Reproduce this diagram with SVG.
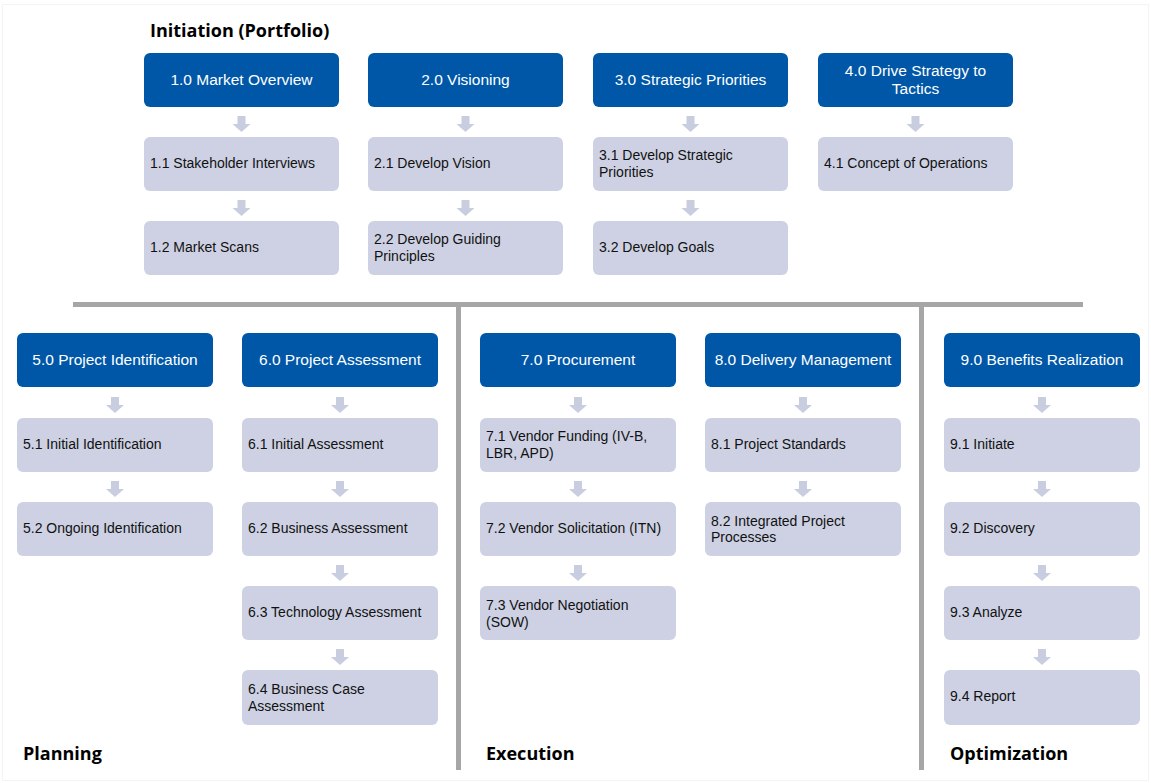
<svg xmlns="http://www.w3.org/2000/svg" xmlns:xlink="http://www.w3.org/1999/xlink" width="1151" height="783" viewBox="0 0 1151 783">
<style>
.hd{fill:#0057a8;}
.sb{fill:#cdd1e3;}
.ht{font-family:"Liberation Sans",Arial,sans-serif;font-size:15.5px;fill:#ffffff;text-anchor:middle;}
.st{font-family:"Liberation Sans",Arial,sans-serif;font-size:14px;fill:#111111;}
.sec{font-family:"Open Sans","DejaVu Sans",sans-serif;font-size:18px;font-weight:bold;fill:#000000;}
.ar{fill:#c9cde0;}
.ln{fill:#a6a6a6;}
</style>
<defs>
<path id="arr" d="M-4,0 H4 V8 H9 L0,16 L-9,8 H-4 Z"/>
</defs>
<rect x="0" y="0" width="1151" height="783" fill="#ffffff"/>
<rect x="2.5" y="4.5" width="1146" height="776" fill="none" stroke="#f4f4f4" stroke-width="1"/>

<g id="dividers">
<rect class="ln" x="73" y="302" width="1010" height="5"/>
<rect class="ln" x="456" y="302" width="5" height="468"/>
<rect class="ln" x="919" y="302" width="5" height="468"/>
</g>

<g id="labels">
<text class="sec" x="150" y="37">Initiation (Portfolio)</text>
<text class="sec" x="23" y="760">Planning</text>
<text class="sec" x="486" y="760">Execution</text>
<text class="sec" x="950" y="760">Optimization</text>
</g>

<g id="n1_0"><rect class="hd" x="144" y="53" width="195" height="54" rx="6"/><text class="ht" x="241.5" y="85">1.0 Market Overview</text></g>
<g id="n2_0"><rect class="hd" x="368" y="53" width="195" height="54" rx="6"/><text class="ht" x="465.5" y="85">2.0 Visioning</text></g>
<g id="n3_0"><rect class="hd" x="593" y="53" width="195" height="54" rx="6"/><text class="ht" x="690.5" y="85">3.0 Strategic Priorities</text></g>
<g id="n4_0"><rect class="hd" x="818" y="53" width="195" height="54" rx="6"/><text class="ht" x="915.5" y="76">4.0 Drive Strategy to</text><text class="ht" x="915.5" y="94">Tactics</text></g>

<g id="n1_1"><rect class="sb" x="144" y="137" width="195" height="54" rx="6"/><text class="st" x="150" y="168">1.1 Stakeholder Interviews</text></g>
<g id="n1_2"><rect class="sb" x="144" y="221" width="195" height="54" rx="6"/><text class="st" x="150" y="252">1.2 Market Scans</text></g>
<g id="n2_1"><rect class="sb" x="368" y="137" width="195" height="54" rx="6"/><text class="st" x="374" y="168">2.1 Develop Vision</text></g>
<g id="n2_2"><rect class="sb" x="368" y="221" width="195" height="54" rx="6"/><text class="st" x="374" y="244">2.2 Develop Guiding</text><text class="st" x="374" y="261">Principles</text></g>
<g id="n3_1"><rect class="sb" x="593" y="137" width="195" height="54" rx="6"/><text class="st" x="599" y="160">3.1 Develop Strategic</text><text class="st" x="599" y="177">Priorities</text></g>
<g id="n3_2"><rect class="sb" x="593" y="221" width="195" height="54" rx="6"/><text class="st" x="599" y="252">3.2 Develop Goals</text></g>
<g id="n4_1"><rect class="sb" x="818" y="137" width="195" height="54" rx="6"/><text class="st" x="824" y="168">4.1 Concept of Operations</text></g>

<g id="n5_0"><rect class="hd" x="17" y="333" width="196" height="54" rx="6"/><text class="ht" x="115" y="365">5.0 Project Identification</text></g>
<g id="n6_0"><rect class="hd" x="242" y="333" width="196" height="54" rx="6"/><text class="ht" x="340" y="365">6.0 Project Assessment</text></g>
<g id="n7_0"><rect class="hd" x="480" y="333" width="196" height="54" rx="6"/><text class="ht" x="578" y="365">7.0 Procurement</text></g>
<g id="n8_0"><rect class="hd" x="705" y="333" width="196" height="54" rx="6"/><text class="ht" x="803" y="365">8.0 Delivery Management</text></g>
<g id="n9_0"><rect class="hd" x="944" y="333" width="196" height="54" rx="6"/><text class="ht" x="1042" y="365">9.0 Benefits Realization</text></g>

<g id="n5_1"><rect class="sb" x="17" y="418" width="196" height="54" rx="6"/><text class="st" x="23" y="449">5.1 Initial Identification</text></g>
<g id="n5_2"><rect class="sb" x="17" y="502" width="196" height="54" rx="6"/><text class="st" x="23" y="533">5.2 Ongoing Identification</text></g>

<g id="n6_1"><rect class="sb" x="242" y="418" width="196" height="54" rx="6"/><text class="st" x="248" y="449">6.1 Initial Assessment</text></g>
<g id="n6_2"><rect class="sb" x="242" y="502" width="196" height="54" rx="6"/><text class="st" x="248" y="533">6.2 Business Assessment</text></g>
<g id="n6_3"><rect class="sb" x="242" y="586" width="196" height="54" rx="6"/><text class="st" x="248" y="617">6.3 Technology Assessment</text></g>
<g id="n6_4"><rect class="sb" x="242" y="670" width="196" height="55" rx="6"/><text class="st" x="248" y="694">6.4 Business Case</text><text class="st" x="248" y="711">Assessment</text></g>

<g id="n7_1"><rect class="sb" x="480" y="418" width="196" height="54" rx="6"/><text class="st" x="486" y="441">7.1 Vendor Funding (IV-B,</text><text class="st" x="486" y="458">LBR, APD)</text></g>
<g id="n7_2"><rect class="sb" x="480" y="502" width="196" height="54" rx="6"/><text class="st" x="486" y="533">7.2 Vendor Solicitation (ITN)</text></g>
<g id="n7_3"><rect class="sb" x="480" y="586" width="196" height="54" rx="6"/><text class="st" x="486" y="610">7.3 Vendor Negotiation</text><text class="st" x="486" y="627">(SOW)</text></g>

<g id="n8_1"><rect class="sb" x="705" y="418" width="196" height="54" rx="6"/><text class="st" x="711" y="449">8.1 Project Standards</text></g>
<g id="n8_2"><rect class="sb" x="705" y="502" width="196" height="54" rx="6"/><text class="st" x="711" y="526">8.2 Integrated Project</text><text class="st" x="711" y="542">Processes</text></g>

<g id="n9_1"><rect class="sb" x="944" y="418" width="196" height="54" rx="6"/><text class="st" x="950" y="449">9.1 Initiate</text></g>
<g id="n9_2"><rect class="sb" x="944" y="502" width="196" height="54" rx="6"/><text class="st" x="950" y="533">9.2 Discovery</text></g>
<g id="n9_3"><rect class="sb" x="944" y="586" width="196" height="54" rx="6"/><text class="st" x="950" y="617">9.3 Analyze</text></g>
<g id="n9_4"><rect class="sb" x="944" y="670" width="196" height="55" rx="6"/><text class="st" x="950" y="701">9.4 Report</text></g>

<g id="connectors" class="ar">
<use xlink:href="#arr" x="241.5" y="116"/>
<use xlink:href="#arr" x="241.5" y="200"/>
<use xlink:href="#arr" x="465.5" y="116"/>
<use xlink:href="#arr" x="465.5" y="200"/>
<use xlink:href="#arr" x="690.5" y="116"/>
<use xlink:href="#arr" x="690.5" y="200"/>
<use xlink:href="#arr" x="915.5" y="116"/>

<use xlink:href="#arr" x="115" y="397"/>
<use xlink:href="#arr" x="115" y="481"/>
<use xlink:href="#arr" x="340" y="397"/>
<use xlink:href="#arr" x="340" y="481"/>
<use xlink:href="#arr" x="340" y="565"/>
<use xlink:href="#arr" x="340" y="649"/>
<use xlink:href="#arr" x="578" y="397"/>
<use xlink:href="#arr" x="578" y="481"/>
<use xlink:href="#arr" x="578" y="565"/>
<use xlink:href="#arr" x="803" y="397"/>
<use xlink:href="#arr" x="803" y="481"/>
<use xlink:href="#arr" x="1042" y="397"/>
<use xlink:href="#arr" x="1042" y="481"/>
<use xlink:href="#arr" x="1042" y="565"/>
<use xlink:href="#arr" x="1042" y="649"/>
</g>
</svg>
